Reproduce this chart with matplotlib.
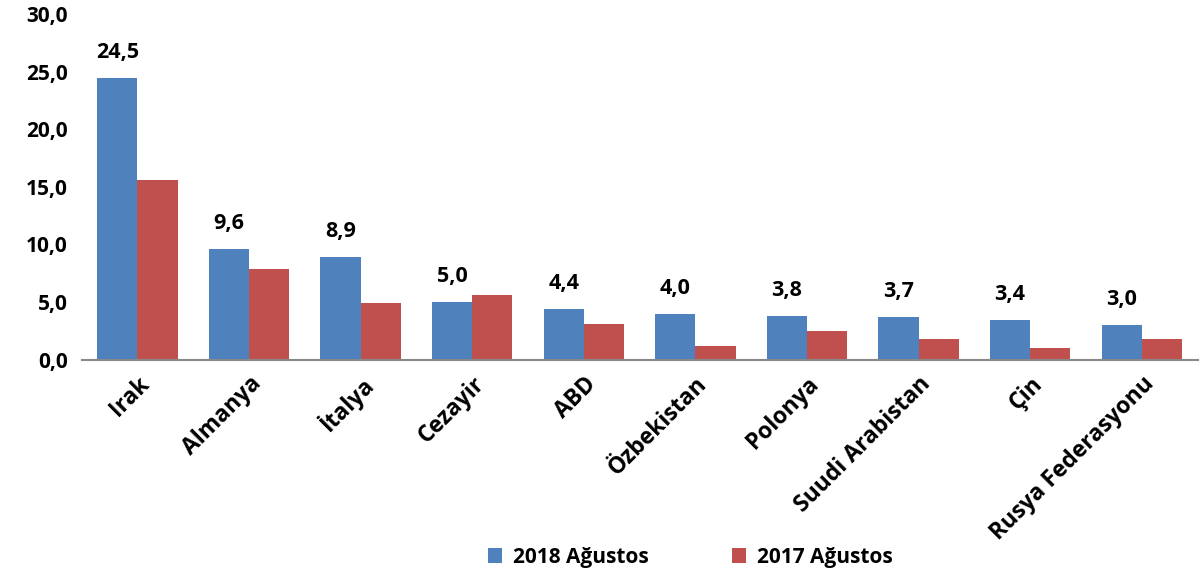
import numpy as np
import matplotlib
matplotlib.use('Agg')
import matplotlib.pyplot as plt

# data
countries = ['Irak', 'Almanya', 'İtalya', 'Cezayir', 'ABD', 'Özbekistan',
             'Polonya', 'Suudi Arabistan', 'Çin', 'Rusya Federasyonu']
aug_2018 = [24.5, 9.6, 8.9, 5.0, 4.4, 4.0, 3.8, 3.7, 3.4, 3.0]
aug_2017 = [15.6, 7.9, 4.9, 5.6, 3.1, 1.2, 2.5, 1.8, 1.0, 1.8]
yticks = [0, 5, 10, 15, 20, 25, 30]

plt.rcParams['font.family'] = ['Open Sans', 'DejaVu Sans']
plt.rcParams['font.weight'] = 'bold'

fig = plt.figure(figsize=(12, 5.78), dpi=100)
ax = fig.add_axes([0.068, 0.378, 0.93, 0.597])

x = np.arange(len(countries))
w = 0.36
b1 = ax.bar(x - w/2, aug_2018, w, color='#4F81BD', label='2018 Ağustos')
b2 = ax.bar(x + w/2, aug_2017, w, color='#C0504D', label='2017 Ağustos')

# value labels only on the 2018 bars
for xi, v in zip(x, aug_2018):
    ax.text(xi - w/2, v + 1.3, f'{v:.1f}'.replace('.', ','), ha='center', va='bottom',
            fontsize=15.5, fontweight='bold')

ax.set_xlim(-0.5, len(countries) - 0.5)
ax.set_ylim(0, 30)
ax.set_yticks(yticks)
ax.set_yticklabels([f'{t:.1f}'.replace('.', ',') for t in yticks], fontsize=15, fontweight='bold')
ax.set_xticks(x)
ax.set_xticklabels(countries, rotation=45, ha='right', rotation_mode='anchor',
                   fontsize=16.5, fontweight='bold')
ax.tick_params(axis='both', length=0)
ax.tick_params(axis='y', pad=10)
ax.tick_params(axis='x', pad=9)

for s in ['top', 'right', 'left']:
    ax.spines[s].set_visible(False)
ax.spines['bottom'].set_color('#888888')
ax.spines['bottom'].set_linewidth(1.5)

fig.legend(handles=[b1, b2], loc='lower center', bbox_to_anchor=(0.575, -0.015), ncol=2,
           frameon=False, handlelength=0.7, handleheight=0.7,
           columnspacing=4, handletextpad=0.5, prop={'weight': 'bold', 'size': 15})

fig.savefig('out.png', dpi=100)
